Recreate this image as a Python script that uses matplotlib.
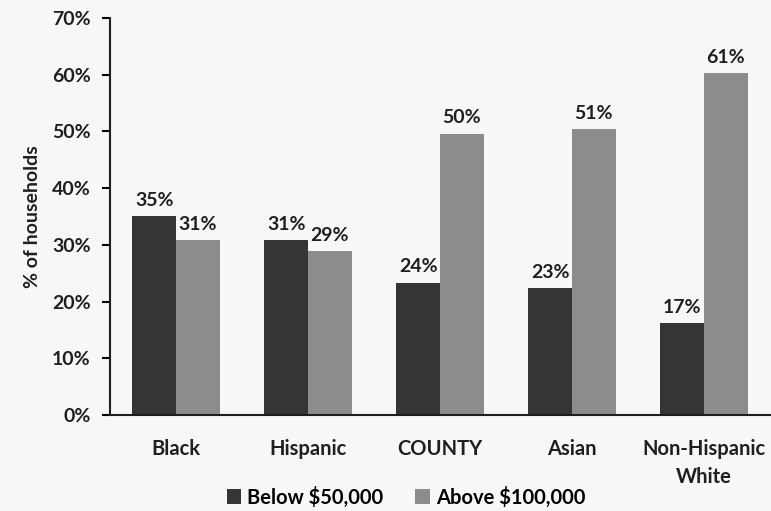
import matplotlib.pyplot as plt
import numpy as np

categories = ["Black", "Hispanic", "COUNTY", "Asian", "Non-Hispanic\nWhite"]
below_50k = [35.1, 30.8, 23.3, 22.4, 16.2]
above_100k = [30.8, 28.9, 49.6, 50.4, 60.3]
below_labels = ["35%", "31%", "24%", "23%", "17%"]
above_labels = ["31%", "29%", "50%", "51%", "61%"]
yticks = [0, 10, 20, 30, 40, 50, 60, 70]

plt.rcParams['font.family'] = ['Lato', 'DejaVu Sans']
plt.rcParams['font.weight'] = 'bold'

bg = "#f6f7f9"
txt = "#1f1f1f"
fig = plt.figure(figsize=(7.71, 5.11), dpi=100, facecolor=bg)
ax = fig.add_axes([110/771, 1 - 415/511, 660/771, 397/511], facecolor=bg)

x = np.arange(len(categories))
w = 0.33
b1 = ax.bar(x - w/2, below_50k, w, color="#353535", label="Below $50,000")
b2 = ax.bar(x + w/2, above_100k, w, color="#8c8c8c", label="Above $100,000")

for rect, lab in zip(b1, below_labels):
    ax.text(rect.get_x() + rect.get_width()/2, rect.get_height() + 1.3, lab,
            ha="center", va="bottom", fontsize=14, fontweight="bold", color=txt)
for rect, lab in zip(b2, above_labels):
    ax.text(rect.get_x() + rect.get_width()/2, rect.get_height() + 1.3, lab,
            ha="center", va="bottom", fontsize=14, fontweight="bold", color=txt)

ax.set_xlim(-0.5, len(categories) - 0.5)
ax.set_ylim(0, 70)
ax.set_yticks(yticks)
ax.set_yticklabels([f"{t}%" for t in yticks], fontsize=14, fontweight="bold", color=txt)
ax.set_xticks(x)
ax.set_xticklabels(categories, fontsize=14.5, fontweight="bold", color=txt, linespacing=1.5)
ax.tick_params(axis="x", length=0, pad=17)
ax.tick_params(axis="y", length=6, width=1.5, direction="out", pad=8)
ax.set_ylabel("% of households", fontsize=14, fontweight="bold", color=txt, labelpad=8)

for s in ["top", "right"]:
    ax.spines[s].set_visible(False)
ax.spines["left"].set_linewidth(1.5)
ax.spines["bottom"].set_linewidth(1.5)
ax.spines["left"].set_color(txt)
ax.spines["bottom"].set_color(txt)

fig.legend(handles=[b1, b2], loc="center", bbox_to_anchor=(406/771, 1 - 497/511),
           ncol=2, frameon=False, fontsize=14.5, handlelength=0.7, handleheight=0.7,
           handletextpad=0.3, columnspacing=1.6)

fig.savefig("out.png", dpi=100, facecolor=bg)
